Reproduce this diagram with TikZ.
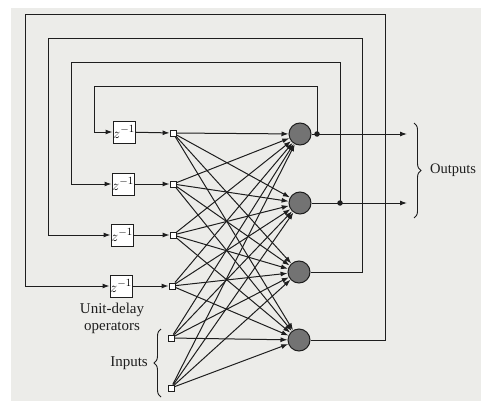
\documentclass[tikz,border=0pt]{standalone}
\usepackage{fontspec}
\setmainfont{Liberation Serif}
\usetikzlibrary{arrows.meta,decorations.pathreplacing}
\definecolor{paper}{RGB}{236,236,233}
\definecolor{ink}{RGB}{30,30,30}
\definecolor{neuronfill}{RGB}{115,115,115}
\begin{document}
\begin{tikzpicture}[x=1pt,y=-1pt,
  wire/.style={draw=ink,line width=1pt},
  arr/.style={wire,-{Latex[length=7pt,width=5pt]}},
  delaybox/.style={draw=ink,line width=1pt,fill=white,minimum width=22pt,minimum height=22pt,inner sep=0pt,font=\fontsize{15}{15}\selectfont},
  insq/.style={draw=ink,line width=0.9pt,fill=white,minimum size=6pt,inner sep=0pt},
  neuron/.style={circle,draw=ink,line width=1pt,fill=neuronfill,minimum size=22pt,inner sep=0pt},
  jdot/.style={circle,fill=ink,minimum size=5.5pt,inner sep=0pt},
  lbl/.style={font=\fontsize{15}{16}\selectfont,text=ink,inner sep=0pt},
  brc/.style={draw=ink,line width=0.9pt,decorate,decoration={brace,amplitude=7pt}}
]
\useasboundingbox (0,0) rectangle (481,401);
\fill[white] (0,0) rectangle (481,401);
\fill[paper] (11,8) rectangle (481,401);

% delay boxes
\node[delaybox] (d1) at (124,132) {$z^{-1}$};
\node[delaybox] (d2) at (123,184) {$z^{-1}$};
\node[delaybox] (d3) at (122,235) {$z^{-1}$};
\node[delaybox] (d4) at (121,286) {$z^{-1}$};

% input squares
\node[insq] (s1) at (173,133) {};
\node[insq] (s2) at (173,184) {};
\node[insq] (s3) at (173,235) {};
\node[insq] (s4) at (172,286) {};
\node[insq] (s5) at (171,338) {};
\node[insq] (s6) at (171,388) {};

% neurons
\node[neuron] (n1) at (300,134) {};
\node[neuron] (n2) at (300,203) {};
\node[neuron] (n3) at (299,272) {};
\node[neuron] (n4) at (299,340) {};

% delay -> square
\foreach \i in {1,2,3,4} \draw[arr] (d\i) -- (s\i);

% full connections
\foreach \s in {1,...,6}
  \foreach \n in {1,...,4}
    \draw[arr] (s\s) -- (n\n);

% output junctions and ends
\coordinate (j1) at (317,134);
\coordinate (j2) at (340,203);
\coordinate (o1) at (407,134);
\coordinate (o2) at (407,203);
\draw[arr] (n1) -- (o1);
\draw[arr] (n2) -- (o2);

% feedback loops
\coordinate (a1) at (317,87);  \coordinate (b1) at (94,87);  \coordinate (c1) at (94,132);
\coordinate (a2) at (340,63);  \coordinate (b2) at (71,63);  \coordinate (c2) at (71,184);
\coordinate (e3) at (362,272); \coordinate (a3) at (362,39);  \coordinate (b3) at (48,39);  \coordinate (c3) at (48,235);
\coordinate (e4) at (385,340); \coordinate (a4) at (385,15);  \coordinate (b4) at (25,15);  \coordinate (c4) at (25,286);

\draw[wire] (j1) -- (a1) -- (b1) -- (c1);
\draw[arr] (c1) -- (d1);
\draw[wire] (j2) -- (a2) -- (b2) -- (c2);
\draw[arr] (c2) -- (d2);
\draw[wire] (n3) -- (e3) -- (a3) -- (b3) -- (c3);
\draw[arr] (c3) -- (d3);
\draw[wire] (n4) -- (e4) -- (a4) -- (b4) -- (c4);
\draw[arr] (c4) -- (d4);

\node[jdot] (dot1) at (j1) {};
\node[jdot] (dot2) at (j2) {};

% labels
\node[lbl] (ud1) at (112,310) {Unit-delay};
\node[lbl] (ud2) at (112,328) {operators};
\node[lbl,anchor=east] (inl) at (148,363) {Inputs};
\node[lbl,anchor=west,font=\fontsize{14.5}{15}\selectfont] (outl) at (430,170) {Outputs};

% braces
\coordinate (ib1) at (161,397);
\coordinate (ib2) at (161,329);
\draw[brc] (ib1) -- (ib2);
\coordinate (ob1) at (414,123);
\coordinate (ob2) at (414,218);
\draw[brc] (ob1) -- (ob2);
\end{tikzpicture}
\end{document}
